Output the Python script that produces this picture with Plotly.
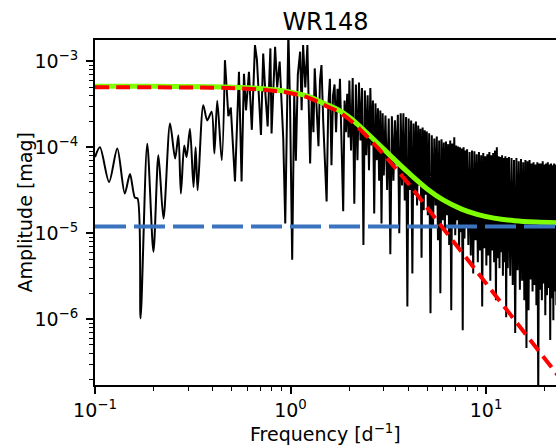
import math
import plotly.graph_objects as go

# Amplitude spectrum of WR148 (amplitudes in micro-mag), low-frequency lobes
freq_lobes = [0.100, 0.106, 0.118, 0.130, 0.142, 0.151, 0.160, 0.165, 0.171, 0.185,
              0.199, 0.211, 0.224, 0.242, 0.257, 0.267, 0.275, 0.286, 0.294, 0.306,
              0.319, 0.327, 0.335, 0.358, 0.375, 0.395, 0.408, 0.422, 0.445, 0.462]
amp_lobes = [77, 100, 39.5, 97, 29, 49, 26, 25.5, 1.02, 110,
             6.1, 81, 14.8, 189, 74, 138, 29, 105, 77, 165,
             34.5, 100, 31.6, 310, 206, 260, 85, 350, 71, 1030]

# Amplitude spectrum, 0.46 - 2 d^-1
freq_mid = [0.462, 0.481, 0.495, 0.520, 0.545, 0.562, 0.578, 0.592, 0.613, 0.634,
            0.658, 0.673, 0.706, 0.725, 0.745, 0.764, 0.789, 0.800, 0.834, 0.855,
            0.880, 0.918, 0.940, 0.975, 0.995,
            1.020, 1.045, 1.065, 1.090, 1.120, 1.140, 1.160, 1.190, 1.220, 1.240,
            1.260, 1.285, 1.310, 1.330, 1.360, 1.390, 1.415, 1.440, 1.470, 1.500,
            1.530, 1.560, 1.590, 1.620, 1.650, 1.680, 1.710, 1.740, 1.770, 1.790,
            1.820, 1.860, 1.890, 1.920, 1.950, 1.980]
amp_mid = [1030, 230, 290, 40, 760, 40, 720, 270, 760, 160,
           1550, 1060, 139, 1240, 400, 175, 1420, 145, 1480, 500,
           1000, 127, 13, 2200, 300,
           4.9, 420, 70, 700, 1300, 270, 1550, 500, 1550, 300,
           65, 400, 150, 830, 250, 103, 600, 910, 200, 52,
           23.4, 300, 630, 62, 400, 540, 150, 480, 260, 630,
           90, 18, 350, 150, 420, 130]

# Amplitude spectrum, 2 - 23.5 d^-1 (dense noise region)
freq_high = [2.00, 2.04, 2.08, 2.12, 2.16, 2.20, 2.24, 2.28, 2.32, 2.36,
             2.40, 2.44, 2.48, 2.52, 2.56, 2.60, 2.64, 2.68, 2.72, 2.76,
             2.80, 2.84, 2.88, 2.92, 2.96,
             3.00, 3.06, 3.12, 3.18, 3.24, 3.30, 3.36, 3.42, 3.48, 3.54,
             3.60, 3.66, 3.72, 3.78, 3.84, 3.90, 3.96, 4.02, 4.08, 4.14,
             4.20, 4.26, 4.32, 4.38, 4.44, 4.50, 4.56, 4.62, 4.68, 4.74,
             4.80, 4.86, 4.92, 4.98,
             5.04, 5.12, 5.20, 5.28, 5.36, 5.44, 5.52, 5.60, 5.68, 5.76,
             5.84, 5.92, 6.00, 6.08, 6.16, 6.24, 6.32, 6.40, 6.48, 6.56,
             6.64, 6.72, 6.80, 6.88, 6.96, 7.04, 7.12, 7.20, 7.28, 7.36,
             7.44, 7.52, 7.60, 7.68, 7.76, 7.84, 7.92, 8.00,
             8.12, 8.24, 8.36, 8.48, 8.60, 8.72, 8.84, 8.96, 9.08, 9.20,
             9.32, 9.44, 9.56, 9.68, 9.80, 9.92, 10.04, 10.16, 10.28, 10.40,
             10.52, 10.64, 10.76, 10.88, 11.00, 11.12, 11.24, 11.36, 11.48, 11.60,
             11.72, 11.84, 11.96, 12.08, 12.20, 12.32, 12.44, 12.56, 12.68, 12.80,
             12.92,
             13.1, 13.3, 13.5, 13.7, 13.9, 14.1, 14.3, 14.5, 14.7, 14.9,
             15.1, 15.3, 15.5, 15.7, 15.9, 16.1, 16.3, 16.5, 16.7, 16.9,
             17.1, 17.3, 17.5, 17.7, 17.9, 18.1, 18.3, 18.5, 18.7, 18.9,
             19.1, 19.3, 19.5, 19.7, 19.9, 20.1, 20.3, 20.5, 20.7, 20.9,
             21.1, 21.3, 21.5, 21.7, 21.9, 22.1, 22.3, 22.5, 22.7, 22.9,
             23.1, 23.3, 23.5]
amp_high = [601, 92, 640, 22, 540, 71, 570, 120, 490, 7.3,
            460, 81, 403, 54, 490, 105, 352, 17, 325, 71,
            285, 41, 269, 13, 250,
            47, 235, 32, 217, 5.7, 230, 41, 206, 62, 240,
            10, 250, 36, 250, 24, 225, 1.4, 217, 32, 206,
            3.4, 190, 28, 200, 21, 180, 36, 165, 5.2, 170,
            18.5, 158, 28, 153,
            16.2, 146, 1.17, 138, 12.4, 127, 21, 134, 8.3, 120,
            2.0, 124, 14.2, 114, 10.8, 117, 16.2, 109, 7.3, 120,
            1.27, 111, 11.5, 131, 9.5, 105, 14.2, 102, 6.3, 100,
            10.3, 97, 0.74, 100, 8.7, 92, 11.5, 95,
            7.3, 88, 5.5, 92, 3.4, 90, 8.3, 83, 4.6, 88,
            6.3, 81, 1.4, 86, 6.7, 79, 4.2, 83, 5.5, 88,
            2.8, 81, 6.3, 86, 4.6, 92, 1.66, 100, 5.1, 79,
            3.9, 77, 6.0, 81, 3.2, 75, 4.6, 79, 1.05, 75,
            3.9,
            77, 3.2, 75, 2.5, 71, 0.69, 75, 3.7, 69, 2.2,
            73, 2.8, 67, 1.66, 71, 0.46, 69, 1.27, 71, 2.9,
            65, 2.1, 67, 2.5, 63, 1.45, 67, 0.11, 65, 2.2,
            65, 1.66, 69, 2.6, 63, 1.11, 65, 1.9, 67, 2.3,
            63, 0.57, 65, 1.75, 62, 0.97, 65, 2.1, 63, 1.45,
            65, 1.85, 62]

# Fitted noise model: red-noise component and red + white noise (mag)
freq_model = [0.1, 0.2, 0.4, 0.6, 0.8, 1.0, 1.25, 1.5, 1.75, 2.0,
              2.4, 2.8, 3.3, 4.0, 5.0, 6.0, 7.5, 9.0, 11.0, 14.0,
              18.0, 23.5]
red_noise = [5.0e-4, 5.0e-4, 4.95e-4, 4.82e-4, 4.58e-4, 4.27e-4, 3.75e-4, 3.08e-4, 2.61e-4, 2.11e-4,
             1.42e-4, 9.8e-5, 6.4e-5, 3.8e-5, 1.98e-5, 1.16e-5, 6.07e-6, 3.56e-6, 1.98e-6, 9.8e-7,
             4.7e-7, 2.16e-7]
full_model = [5.13e-4, 5.13e-4, 5.08e-4, 4.95e-4, 4.71e-4, 4.40e-4, 3.88e-4, 3.21e-4, 2.74e-4, 2.24e-4,
              1.55e-4, 1.11e-4, 7.7e-5, 5.1e-5, 3.28e-5, 2.46e-5, 1.91e-5, 1.66e-5, 1.50e-5, 1.40e-5,
              1.35e-5, 1.32e-5]
white_level = 1.2e-5
white_span = [0.1, 23.5]

x_ticks = [0.1, 1, 10]
x_ticktext = ["10<sup>−1</sup>", "10<sup>0</sup>", "10<sup>1</sup>"]
y_ticks = [1e-6, 1e-5, 1e-4, 1e-3]
y_ticktext = ["10<sup>−6</sup>", "10<sup>−5</sup>", "10<sup>−4</sup>", "10<sup>−3</sup>"]
x_minor = [0.2, 0.3, 0.4, 0.5, 0.6, 0.7, 0.8, 0.9, 2, 3, 4, 5, 6, 7, 8, 9, 20]
y_minor = [m * 10.0 ** e for e in (-7, -6, -5, -4) for m in range(2, 10)]

UMAG = 1e-6
FONT = "DejaVu Sans"

fig = go.Figure()
fig.add_trace(go.Scatter(
    x=freq_lobes, y=[a * UMAG for a in amp_lobes], mode="lines",
    line=dict(color="black", width=2, shape="spline", smoothing=0.8)))
fig.add_trace(go.Scatter(
    x=freq_mid + freq_high, y=[a * UMAG for a in amp_mid + amp_high], mode="lines",
    line=dict(color="black", width=2)))
fig.add_trace(go.Scatter(
    x=freq_model, y=full_model, mode="lines",
    line=dict(color="#7FFF00", width=5, shape="spline")))
fig.add_trace(go.Scatter(
    x=freq_model, y=red_noise, mode="lines",
    line=dict(color="#FF0000", width=4, dash="14px,7px", shape="spline")))
fig.add_trace(go.Scatter(
    x=white_span, y=[white_level, white_level], mode="lines",
    line=dict(color="#3A73BE", width=4, dash="31px,8px")))

axis_common = dict(
    type="log", showline=True, linecolor="black", linewidth=2,
    ticks="outside", ticklen=7, tickwidth=1.6, tickcolor="black",
    showgrid=False, zeroline=False,
    tickfont=dict(family=FONT, size=19, color="black"),
)

fig.update_layout(
    width=556, height=448,
    margin=dict(l=95, r=0, t=40, b=63),
    paper_bgcolor="white", plot_bgcolor="white",
    showlegend=False,
    font=dict(family=FONT, color="black"),
    title=dict(text="WR148", x=0.5, xref="paper", xanchor="center",
               y=1 - 22 / 448, yref="container", yanchor="middle",
               font=dict(family=FONT, size=24, color="black")),
    xaxis=dict(axis_common, range=[-1, math.log10(22.8)], mirror=True,
               tickvals=x_ticks, ticktext=x_ticktext,
               minor=dict(tickvals=x_minor, ticks="outside", ticklen=4,
                          tickwidth=1.2, tickcolor="black", showgrid=False)),
    yaxis=dict(axis_common, range=[-6.767, -2.75], mirror=False,
               tickvals=y_ticks, ticktext=y_ticktext, ticklabelstandoff=4,
               minor=dict(tickvals=y_minor, ticks="outside", ticklen=4,
                          tickwidth=1.2, tickcolor="black", showgrid=False)),
    annotations=[
        dict(text="Frequency [d<sup>−1</sup>]", x=0.5, y=-48 / 345,
             xref="paper", yref="paper", xanchor="center", yanchor="middle",
             showarrow=False, font=dict(family=FONT, size=19, color="black")),
        dict(text="Amplitude [mag]", x=-71 / 461, y=0.5, textangle=-90,
             xref="paper", yref="paper", xanchor="center", yanchor="middle",
             showarrow=False, font=dict(family=FONT, size=19, color="black")),
    ],
)

fig.write_html("out.html")
